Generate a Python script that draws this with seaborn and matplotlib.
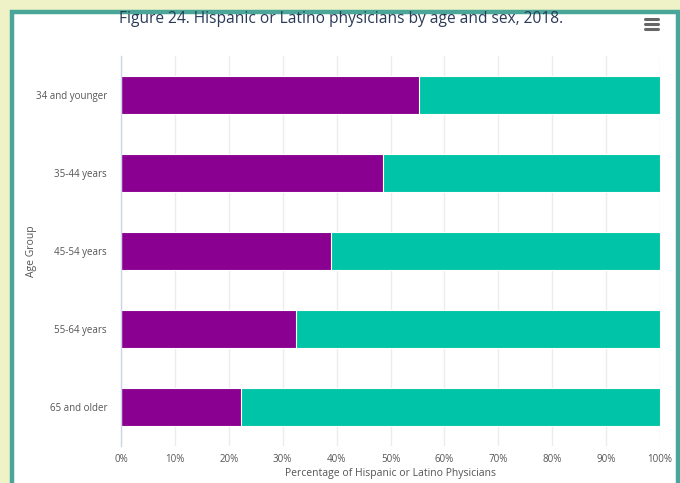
import matplotlib
matplotlib.use("Agg")
import matplotlib.pyplot as plt
import seaborn as sns
import pandas as pd
from matplotlib.patches import Rectangle
from matplotlib.lines import Line2D
from matplotlib.ticker import FuncFormatter

categories = ["34 and younger", "35-44 years", "45-54 years", "55-64 years", "65 and older"]
female = [55.3, 48.6, 39.0, 32.5, 22.3]
male = [44.7, 51.4, 61.0, 67.5, 77.7]
xticks = [0, 10, 20, 30, 40, 50, 60, 70, 80, 90, 100]

sns.set_theme(style="white")
plt.rcParams['font.family'] = ['Open Sans', 'DejaVu Sans']

df = pd.DataFrame({"Age Group": categories, "Female": female, "Male": male})
df["Total"] = df["Female"] + df["Male"]

fig = plt.figure(figsize=(6.8, 4.83), dpi=100)
fig.patch.set_facecolor("#eef2c6")
# white panel with teal border
fig.add_artist(Rectangle((11.5/680, -0.05), (677.5-11.5)/680, 1 - 11.5/483 + 0.05,
                         transform=fig.transFigure, facecolor="white",
                         edgecolor="#4aa698", linewidth=3.2, zorder=0))

ax = fig.add_axes([121/680, 1 - 446/483, (660-121)/680, (446-56)/483])
ax.set_facecolor("none")

sns.barplot(data=df, x="Total", y="Age Group", orient="h", color="#00c4a7",
            saturation=1, width=0.48, edgecolor="white", linewidth=0.8, ax=ax)
sns.barplot(data=df, x="Female", y="Age Group", orient="h", color="#8a0090",
            saturation=1, width=0.48, edgecolor="white", linewidth=0.8, ax=ax)

ax.set_xlim(0, 100)
ax.set_xticks(xticks)
ax.xaxis.set_major_formatter(FuncFormatter(lambda v, p: f"{int(v)}%"))
ax.grid(axis="x", color="#ececec", linewidth=1)
ax.set_axisbelow(True)
for s in ["top", "right", "bottom"]:
    ax.spines[s].set_visible(False)
ax.spines["left"].set_color("#ccd6eb")
ax.spines["left"].set_linewidth(1)
ax.tick_params(axis="both", length=0, labelsize=7, labelcolor="#555555")
ax.tick_params(axis="x", pad=6)
ax.tick_params(axis="y", pad=10)
ax.set_xlabel("Percentage of Hispanic or Latino Physicians", fontsize=7.5, color="#555555", labelpad=2)
ax.set_ylabel("Age Group", fontsize=7.5, color="#555555", labelpad=-0.5)

fig.text(341/680, 1 - 19/483, "Figure 24. Hispanic or Latino physicians by age and sex, 2018.",
         ha="center", va="center", fontsize=11.2, color="#2b3a57")

# menu icon
for yy in (19, 24, 29):
    fig.add_artist(Line2D([645/680, 658/680], [1 - yy/483, 1 - yy/483],
                          transform=fig.transFigure, color="#666666", linewidth=2.2))

fig.savefig("out.png", dpi=100, facecolor=fig.get_facecolor())
